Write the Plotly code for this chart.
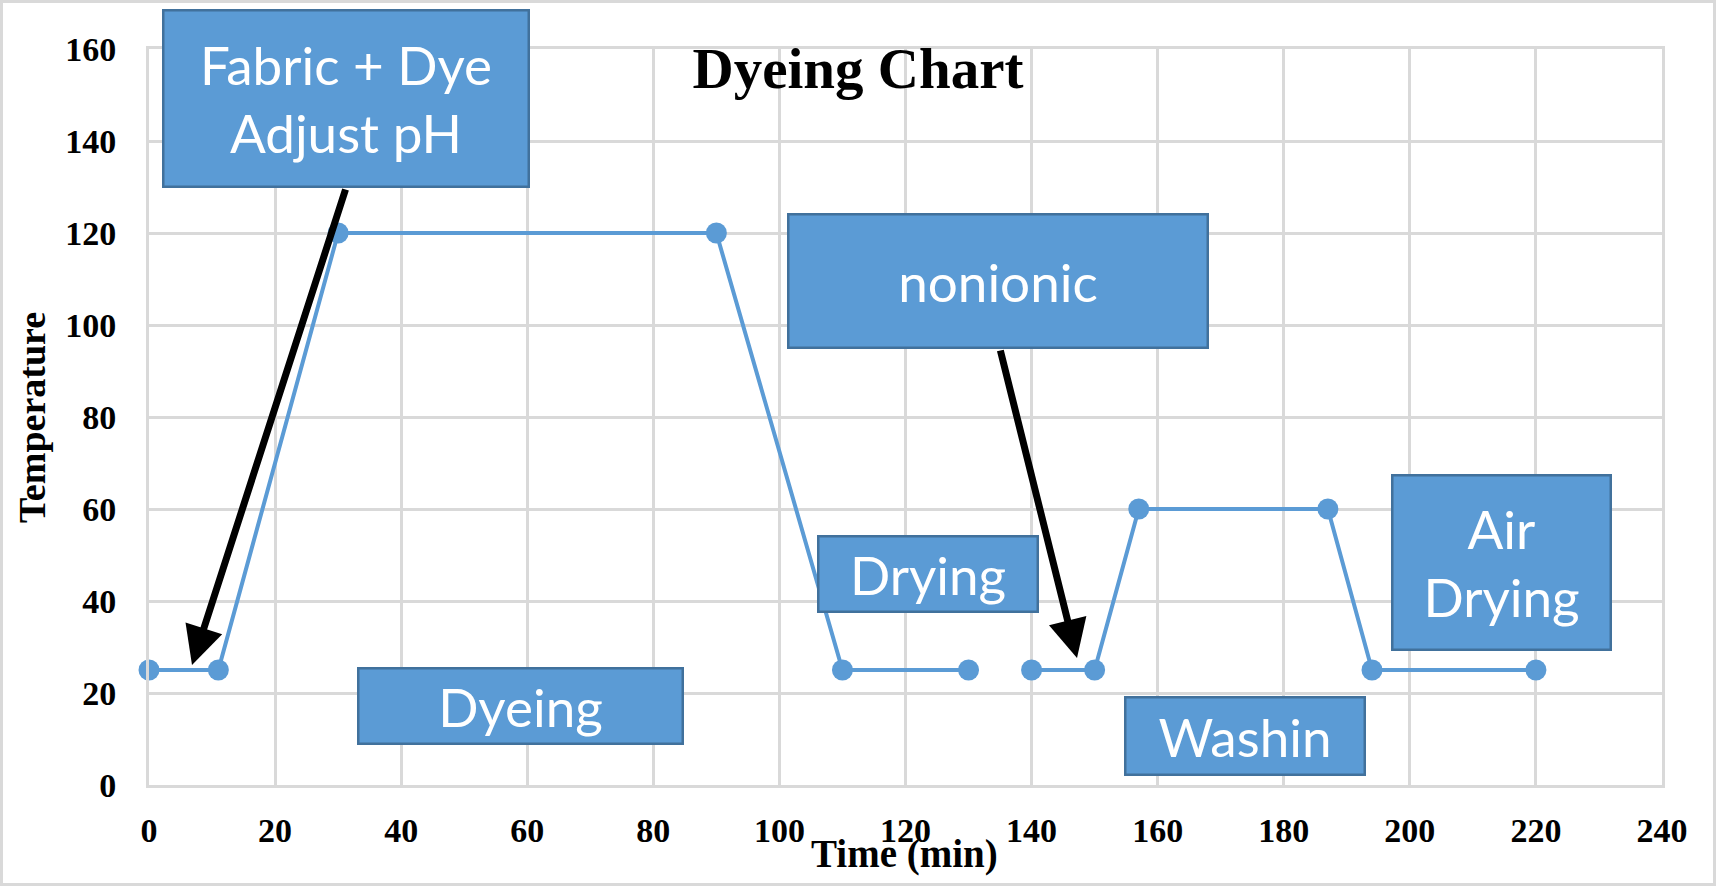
import plotly.graph_objects as go

# ---------------- data ----------------
time_min = [0, 11, 30, 90, 110, 130, None, 140, 150, 157, 187, 194, 220]
temperature = [25, 25, 120, 120, 25, 25, None, 25, 25, 60, 60, 25, 25]

x_ticks = [0, 20, 40, 60, 80, 100, 120, 140, 160, 180, 200, 220, 240]
y_ticks = [0, 20, 40, 60, 80, 100, 120, 140, 160]

box_labels = ["Fabric + Dye<br>Adjust pH", "nonionic", "Drying", "Dyeing", "Washin", "Air<br>Drying"]

title_text = "Dyeing Chart"
x_title = "Time (min)"
y_title = "Temperature"

# ---------------- layout geometry ----------------
W, H = 1716, 886
ML, MR, MT, MB = 149, 54, 49, 101
PW, PH = W - ML - MR, H - MT - MB
X_RANGE = [0, 240]
Y_RANGE = [0, 160]


def px_to_x(px):
    return X_RANGE[0] + (px - ML) / PW * (X_RANGE[1] - X_RANGE[0])


def px_to_y(py):
    return Y_RANGE[0] + (H - MB - py) / PH * (Y_RANGE[1] - Y_RANGE[0])


def px_to_px_paper(px):
    return (px - ML) / PW


def py_to_paper(py):
    return (H - MB - py) / PH


# box geometry in pixels: (center x, center y, width, height)
box_geom = [
    (346, 98.5, 368, 179),
    (998, 281, 422, 136),
    (928, 574, 222, 78),
    (520, 706, 327, 78),
    (1245, 736, 242, 80),
    (1501, 562, 221, 177),
]
# arrows in pixels: (tail x, tail y, tip x, tip y)
arrow_geom = [
    (346, 188, 192, 665),
    (1000, 349, 1077, 658),
]

LINE_BLUE = "#5b9bd5"
BOX_FILL = "#5b9bd5"
BOX_EDGE = "#41719c"
GRID = "#d9d9d9"
SERIF = "Liberation Serif"
SANS = "Lato"
BW = 2.5

fig = go.Figure()
fig.add_trace(go.Scatter(
    x=time_min, y=temperature, mode="lines+markers",
    line=dict(color=LINE_BLUE, width=4),
    marker=dict(color=LINE_BLUE, size=21),
    connectgaps=False, showlegend=False, cliponaxis=False,
))

annotations = []
for (tx, ty, hx, hy) in arrow_geom:
    annotations.append(dict(
        x=px_to_x(hx), y=px_to_y(hy), xref="x", yref="y",
        ax=px_to_x(tx), ay=px_to_y(ty), axref="x", ayref="y",
        text="", showarrow=True, arrowhead=2, arrowsize=1.1,
        arrowwidth=7, arrowcolor="black", standoff=0,
    ))
for label, (cx, cy, bw_, bh_) in zip(box_labels, box_geom):
    annotations.append(dict(
        x=px_to_x(cx), y=px_to_y(cy), xref="x", yref="y",
        xanchor="center", yanchor="middle",
        text=label, showarrow=False,
        width=bw_ - 2 * BW, height=bh_ - 2 * BW,
        bgcolor=BOX_FILL, bordercolor=BOX_EDGE, borderwidth=BW, borderpad=0,
        font=dict(family=SANS, size=53, color="white"),
        align="center", valign="middle",
    ))
# axis titles
annotations.append(dict(
    x=px_to_px_paper(32), y=py_to_paper(418), xref="paper", yref="paper",
    xanchor="center", yanchor="middle", textangle=-90, showarrow=False,
    text=y_title, font=dict(family=SERIF, size=38, color="black", weight="bold"),
))
annotations.append(dict(
    x=px_to_px_paper(904), y=py_to_paper(854), xref="paper", yref="paper",
    xanchor="center", yanchor="middle", showarrow=False,
    text=x_title, font=dict(family=SERIF, size=39, color="black", weight="bold"),
))

shapes = [dict(
    type="rect", xref="paper", yref="paper",
    x0=px_to_px_paper(1.5), x1=px_to_px_paper(W - 1.5),
    y0=py_to_paper(H - 1.5), y1=py_to_paper(1.5),
    line=dict(color=GRID, width=3), fillcolor="rgba(0,0,0,0)", layer="below",
)]

tickfont = dict(family=SERIF, size=34, color="black", weight="bold")

fig.update_layout(
    width=W, height=H,
    margin=dict(l=ML, r=MR, t=MT, b=MB, autoexpand=False),
    paper_bgcolor="white", plot_bgcolor="white",
    title=dict(
        text=title_text, x=px_to_px_paper(858), xref="paper", xanchor="center",
        y=1 - 68 / H, yref="container", yanchor="middle",
        font=dict(family=SERIF, size=57, color="black", weight="bold"),
    ),
    xaxis=dict(
        range=X_RANGE, tickvals=x_ticks, ticktext=[str(v) for v in x_ticks],
        showgrid=True, gridcolor=GRID, gridwidth=3, zeroline=False,
        showline=True, linecolor=GRID, linewidth=3, mirror=True,
        ticks="", ticklabelstandoff=13, tickfont=tickfont, fixedrange=True,
    ),
    yaxis=dict(
        range=Y_RANGE, tickvals=y_ticks, ticktext=[str(v) for v in y_ticks],
        showgrid=True, gridcolor=GRID, gridwidth=3, zeroline=False,
        showline=True, linecolor=GRID, linewidth=3, mirror=True,
        ticks="", ticklabelstandoff=23, tickfont=tickfont, fixedrange=True,
    ),
    annotations=annotations,
    shapes=shapes,
)

fig.write_html(
    "out.html",
    config={"displayModeBar": False},
    post_script="document.body.style.margin='0px';",
)
